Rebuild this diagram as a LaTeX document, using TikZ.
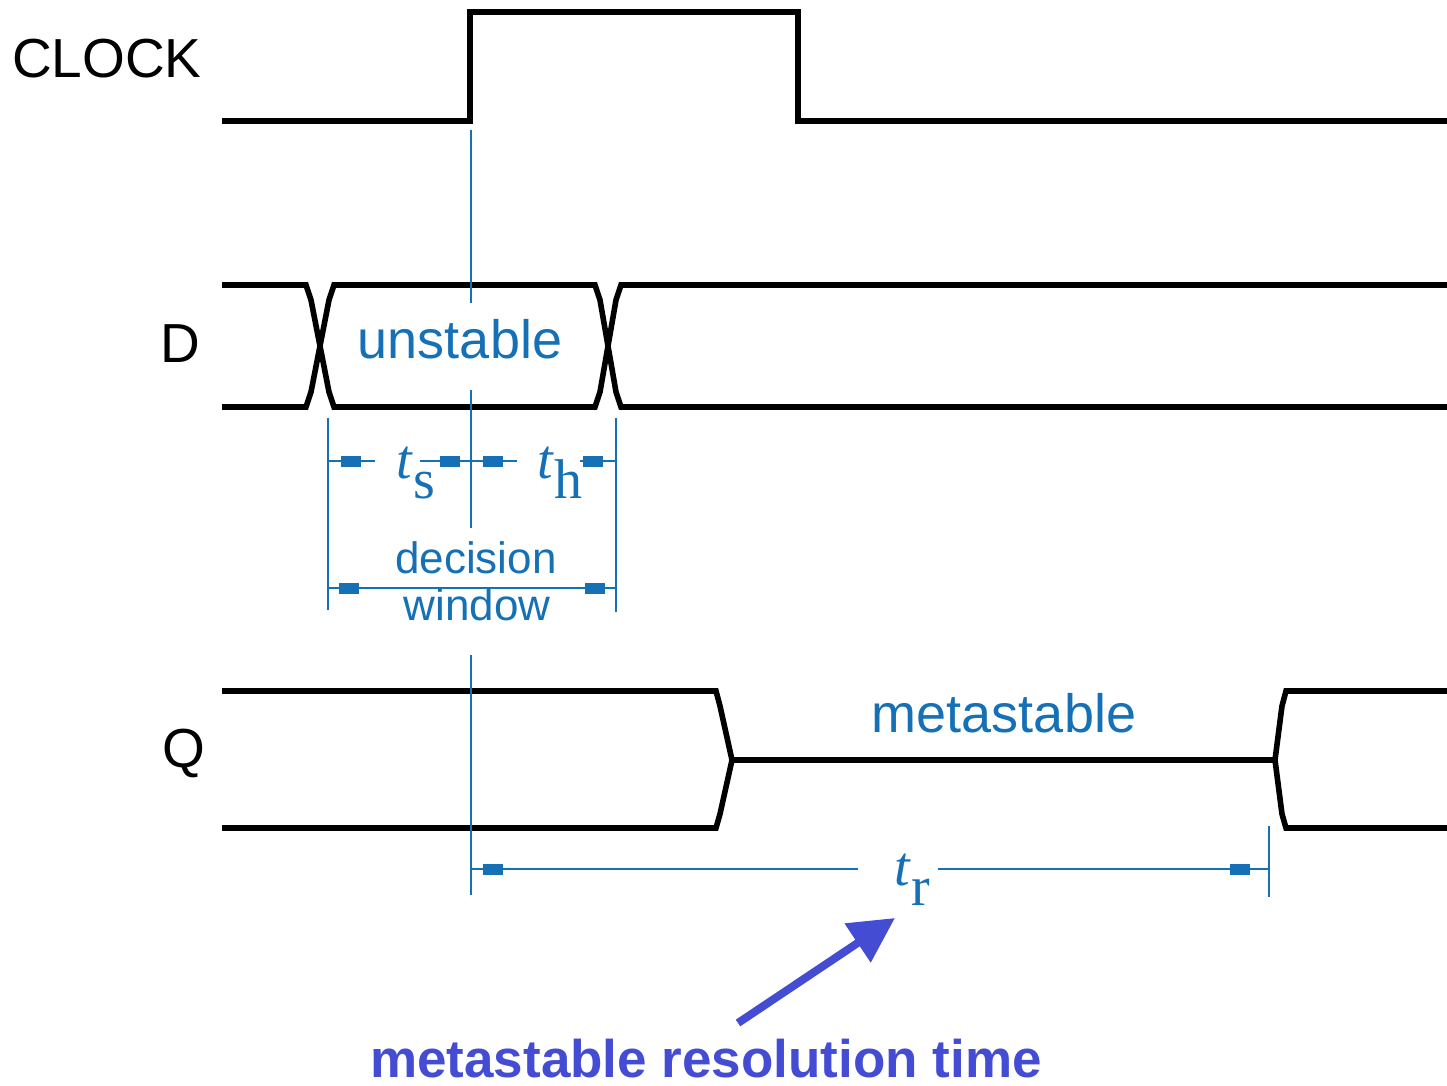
\documentclass[tikz,border=0pt]{standalone}
\usepackage{fontspec}
\setmainfont{Liberation Sans}
\newfontfamily\tfont{Liberation Serif}
\usetikzlibrary{arrows.meta}
\definecolor{dimblue}{RGB}{22,112,182}
\definecolor{noteblue}{RGB}{68,76,212}
\tikzstyle{wave}=[draw=black, line width=2.8pt]
\tikzstyle{dim}=[draw=dimblue, line width=1.4pt]
\tikzstyle{dimtip}=[fill=dimblue, inner sep=0, outer sep=0, minimum width=10pt, minimum height=5.5pt]
\tikzstyle{signame}=[anchor=base east, inner sep=0, font=\fontsize{27.5}{30}\selectfont]
\tikzstyle{region}=[anchor=base, inner sep=0, text=dimblue, font=\fontsize{27}{30}\selectfont]
\tikzstyle{window}=[region, font=\fontsize{22}{24}\selectfont]
\tikzstyle{tlabel}=[anchor=base west, inner sep=0, text=dimblue, font=\tfont\fontsize{28}{30}\selectfont]
\tikzstyle{callout}=[draw=noteblue, line width=4pt, -{Triangle[length=22.5pt, width=22.5pt]}]
\tikzstyle{timing}=[x=0.5pt, y=-0.5pt,
                    % picture is laid out in pixel units, y pointing down
                    every node/.append style={text depth=0pt}]
\newcommand{\tsub}[2]{\textit{#1}\raisebox{-10pt}{#2}}

\begin{document}
\begin{tikzpicture}[timing]
    \useasboundingbox (0, 0) rectangle (1447, 1086);

    % signal names
    \node[signame] (clk) at (202, 78)  {CLOCK};
    \node[signame] (d)   at (201, 362) {D};
    \node[signame] (q)   at (206, 767) {Q};

    % waveforms
    \draw[wave] (222, 121) -- (470, 121) -- (470, 12) -- (798, 12) -- (798, 121) -- (1447, 121);
    \draw[wave] (222, 285) -- (306, 285) -- (311, 300) -- (320, 346) -- (329, 392) -- (334, 407)
                -- (595, 407) -- (600, 392) -- (608, 346) -- (616, 300) -- (621, 285) -- (1447, 285);
    \draw[wave] (222, 407) -- (306, 407) -- (311, 392) -- (320, 346) -- (329, 300) -- (334, 285)
                -- (595, 285) -- (600, 300) -- (608, 346) -- (616, 392) -- (621, 407) -- (1447, 407);
    \draw[wave] (222, 691) -- (716, 691) -- (720, 706) -- (732, 760) -- (720, 814) -- (716, 828) -- (222, 828);
    \draw[wave] (732, 760) -- (1275, 760);
    \draw[wave] (1447, 691) -- (1286, 691) -- (1282, 706) -- (1275, 760) -- (1282, 814) -- (1286, 828) -- (1447, 828);

    \node[region] (unst) at (460, 358) {unstable};
    \node[region] (meta) at (1004, 732) {metastable};

    % clock edge and extension lines
    \coordinate (edge) at (471, 130);
    \draw[dim] (edge) -- (471, 303);
    \draw[dim] (471, 390) -- (471, 528);
    \draw[dim] (471, 655) -- (471, 895);
    \draw[dim] (328, 418) -- (328, 610);
    \draw[dim] (616, 418) -- (616, 612);
    \draw[dim] (1269, 826) -- (1269, 897);

    % setup and hold
    \node[tlabel] (ts) at (396, 478) {\tsub{t}{s}};
    \node[tlabel] (th) at (537, 478) {\tsub{t}{h}};
    \draw[dim] (328, 461) -- (375, 461);
    \draw[dim] (420, 461) -- (517, 461);
    \draw[dim] (580, 461) -- (616, 461);
    \node[dimtip] (tsL) at (351, 461) {};
    \node[dimtip] (tsR) at (450, 461) {};
    \node[dimtip] (thL) at (493, 461) {};
    \node[dimtip] (thR) at (593, 461) {};

    % decision window
    \node[window] (dw1) at (476, 573) {decision};
    \node[window] (dw2) at (477, 620) {window};
    \draw[dim] (328, 588) -- (616, 588);
    \node[dimtip] (dwL) at (349, 588) {};
    \node[dimtip] (dwR) at (595, 588) {};

    % resolution time
    \node[tlabel] (tr) at (894, 885) {\tsub{t}{r}};
    \draw[dim] (471, 869) -- (858, 869);
    \draw[dim] (938, 869) -- (1269, 869);
    \node[dimtip] (trL) at (493, 869) {};
    \node[dimtip] (trR) at (1240, 869) {};

    \node[anchor=base, inner sep=0, text=noteblue, font=\bfseries\fontsize{26.5}{30}\selectfont]
        (res) at (706, 1077) {metastable resolution time};
    \coordinate (tail) at (738, 1023);
    \coordinate (head) at (895, 918);
    \draw[callout] (tail) -- (head);
\end{tikzpicture}
\end{document}
